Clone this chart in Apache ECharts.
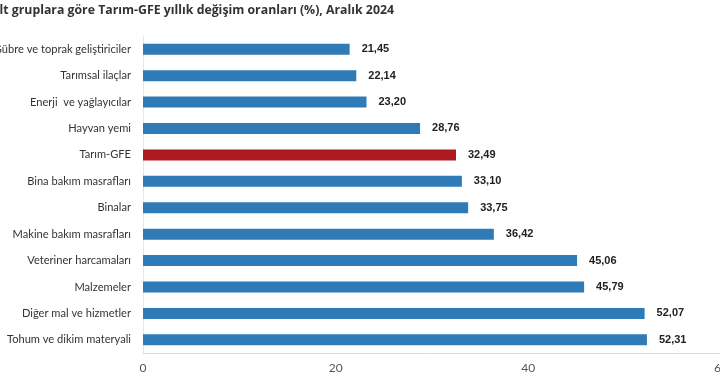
<!DOCTYPE html>
<html>
<head>
<meta charset="utf-8">
<script src="https://cdn.jsdelivr.net/npm/echarts@6/dist/echarts.min.js"></script>
<style>
  html, body { margin: 0; padding: 0; background: #fff; }
  #chart { width: 720px; height: 376px; }
</style>
</head>
<body>
<div id="chart"></div>
<script>
// kategoriler (yukaridan asagiya)
var categories = [
  'Gübre ve toprak geliştiriciler',
  'Tarımsal ilaçlar',
  'Enerji  ve yağlayıcılar',
  'Hayvan yemi',
  'Tarım-GFE',
  'Bina bakım masrafları',
  'Binalar',
  'Makine bakım masrafları',
  'Veteriner harcamaları',
  'Malzemeler',
  'Diğer mal ve hizmetler',
  'Tohum ve dikim materyali'
]
var values = [21.45, 22.14, 23.20, 28.76, 32.49, 33.10, 33.75, 36.42, 45.06, 45.79, 52.07, 52.31]
var highlight = 'Tarım-GFE'
var xTicks = { min: 0, max: 60, interval: 20 }

var chart = echarts.init(document.getElementById('chart'))

var option = {
  animation: false,
  // baslik sol kenardan tasiyor (orijinaldeki gibi)
  graphic: [
    {
      type: 'text',
      x: -9,
      y: 4,
      style: {
        text: 'Alt gruplara göre Tarım-GFE yıllık değişim oranları (%), Aralık 2024',
        font: 'bold 12.3px "Open Sans"',
        fill: '#333'
      }
    }
  ],
  grid: {
    left: 143,
    top: 36,
    width: 578,
    height: 317,
    outerBoundsMode: 'none',
    containLabel: false
  },
  xAxis: {
    type: 'value',
    min: xTicks.min,
    max: xTicks.max,
    interval: xTicks.interval,
    splitLine: { show: false },
    axisLine: { show: true, lineStyle: { color: '#dcdcdc' } },
    axisTick: { show: false },
    axisLabel: {
      color: '#555',
      fontFamily: 'Lato',
      fontSize: 12,
      margin: 9
    }
  },
  yAxis: {
    type: 'category',
    inverse: true,
    data: categories,
    axisLine: { show: true, lineStyle: { color: '#e6e6e6' } },
    axisTick: { show: false },
    axisLabel: {
      color: '#333',
      fontFamily: 'Lato',
      fontSize: 11.1,
      margin: 12
    }
  },
  series: [
    {
      type: 'bar',
      barWidth: 11,
      data: values.map(function (v, i) {
        return {
          value: v,
          itemStyle: { color: categories[i] === highlight ? '#ad1a1f' : '#2e7bb8' }
        }
      }),
      label: {
        show: true,
        position: 'right',
        distance: 12,
        color: '#222',
        fontFamily: 'Liberation Sans',
        fontSize: 11,
        fontWeight: 'bold',
        formatter: function (p) {
          return p.value.toFixed(2).replace('.', ',')
        }
      }
    }
  ]
}

chart.setOption(option)
</script>
</body>
</html>
